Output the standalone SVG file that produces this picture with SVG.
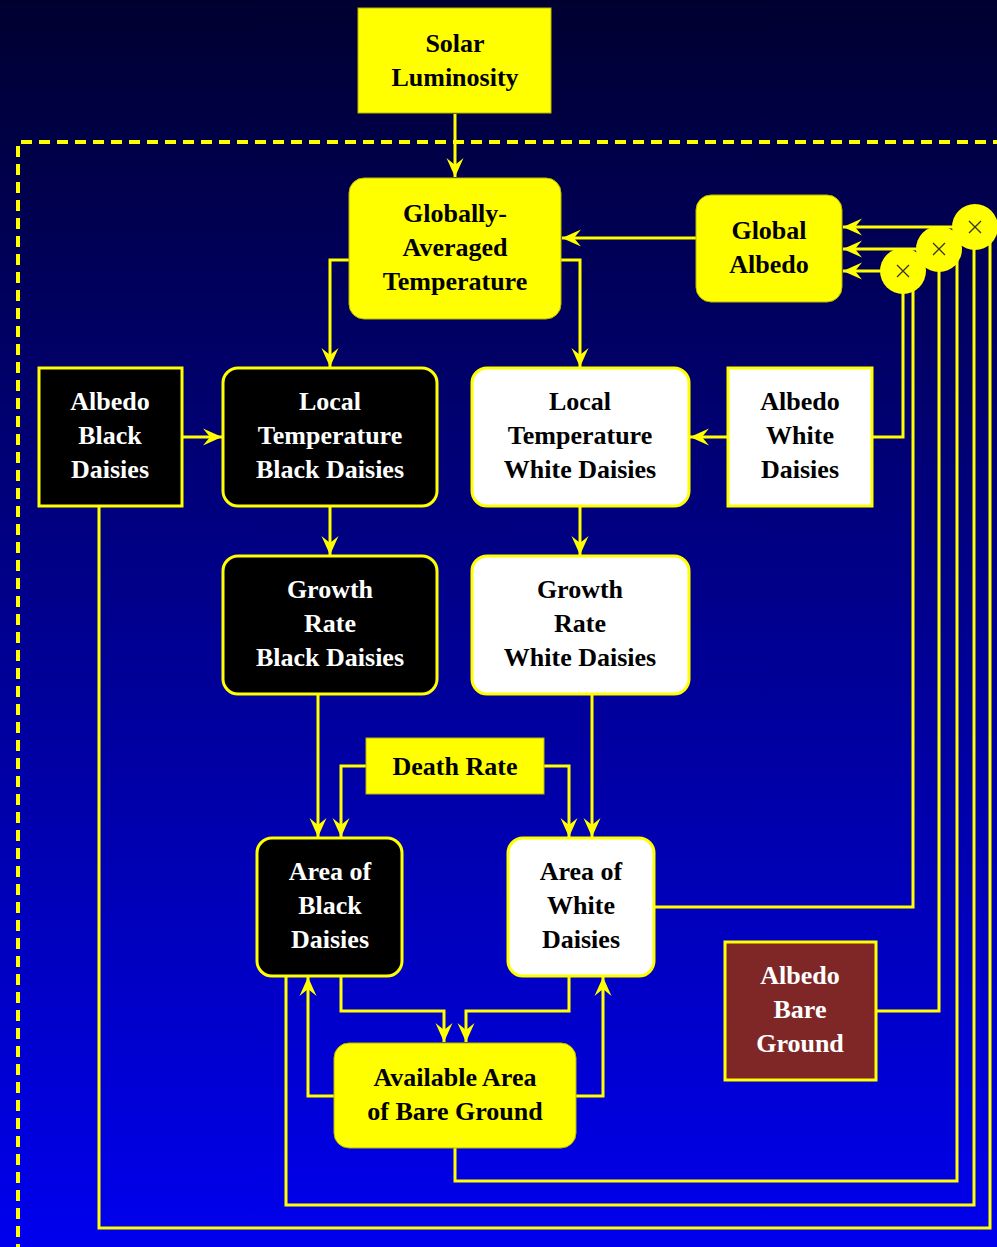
<svg xmlns="http://www.w3.org/2000/svg" width="997" height="1247" viewBox="0 0 997 1247">
<defs>
<linearGradient id="bg" x1="0" y1="0" x2="0" y2="1">
<stop offset="0" stop-color="#000030"/>
<stop offset="1" stop-color="#0000ee"/>
</linearGradient>
<marker id="arr" viewBox="-20 -10 22 20" markerWidth="22" markerHeight="20" refX="0" refY="0" orient="auto" markerUnits="userSpaceOnUse">
<path d="M0,0 L-19,-8.5 L-12,0 L-19,8.5 Z" fill="#ffff00"/>
</marker>
<style>
.y{fill:#ffff00;stroke:#b8b800;stroke-width:1}
.b{fill:#000000;stroke:#ffff00;stroke-width:3}
.w{fill:#ffffff;stroke:#ffff00;stroke-width:3}
.r{fill:#7f2727;stroke:#ffff00;stroke-width:3}
.c{fill:none;stroke:#ffff00;stroke-width:3}
.a{marker-end:url(#arr)}
text{font-family:"Liberation Serif","Times New Roman",serif;font-weight:bold;font-size:26px;text-anchor:middle}
.tk{fill:#000000}
.tw{fill:#ffffff}
.x{stroke:#333333;stroke-width:1.3}
</style>
</defs>
<rect x="0" y="0" width="997" height="1247" fill="url(#bg)"/>
<g id="frame" fill="none" stroke="#ffff00" stroke-width="4" stroke-dasharray="11 7">
<path d="M21,142 H1000"/>
<path d="M18,146 V1250"/>
</g>
<g id="connectors">
<path class="c a" d="M455,114 V177"/>
<path class="c a" d="M349,260 H330 V367"/>
<path class="c a" d="M561,260 H580 V367"/>
<path class="c a" d="M696,238 H562"/>
<path class="c a" d="M182,437 H222"/>
<path class="c a" d="M728,437 H690"/>
<path class="c a" d="M330,506 V555"/>
<path class="c a" d="M580,506 V555"/>
<path class="c a" d="M318,694 V837"/>
<path class="c a" d="M366,766 H341 V837"/>
<path class="c a" d="M544,766 H569 V837"/>
<path class="c a" d="M592,694 V837"/>
<path class="c a" d="M341,976 V1011 H444 V1042"/>
<path class="c a" d="M569,976 V1011 H466 V1042"/>
<path class="c a" d="M334,1096 H308 V977"/>
<path class="c a" d="M576,1096 H603 V977"/>
<path class="c" d="M872,437 H903 V271"/>
<path class="c" d="M654,907 H913 V271"/>
<path class="c" d="M876,1011 H939 V249"/>
<path class="c" d="M455,1148 V1181 H957 V249"/>
<path class="c" d="M286,976 V1205 H974 V227"/>
<path class="c" d="M99,506 V1228 H990 V227"/>
<path class="c a" d="M975,227 H843"/>
<path class="c a" d="M939,249 H843"/>
<path class="c a" d="M903,271 H843"/>
</g>
<g id="mult3">
<circle cx="975" cy="227" r="23" fill="#ffff00"/>
<path class="x" d="M969,221 L981,233 M981,221 L969,233"/>
</g>
<g id="mult2">
<circle cx="939" cy="249" r="23" fill="#ffff00"/>
<path class="x" d="M933,243 L945,255 M945,243 L933,255"/>
</g>
<g id="mult1">
<circle cx="903" cy="271" r="23" fill="#ffff00"/>
<path class="x" d="M897,265 L909,277 M909,265 L897,277"/>
</g>
<g id="solar">
<rect class="y" x="358" y="8" width="193" height="105"/>
<text class="tk" x="455" y="52">Solar</text>
<text class="tk" x="455" y="86">Luminosity</text>
</g>
<g id="globaltemp">
<rect class="y" x="349" y="178" width="212" height="141" rx="15"/>
<text class="tk" x="455" y="222">Globally-</text>
<text class="tk" x="455" y="256">Averaged</text>
<text class="tk" x="455" y="290">Temperature</text>
</g>
<g id="globalalbedo">
<rect class="y" x="696" y="195" width="146" height="107" rx="15"/>
<text class="tk" x="769" y="239">Global</text>
<text class="tk" x="769" y="273">Albedo</text>
</g>
<g id="albedoblack">
<rect class="b" x="39" y="368" width="143" height="138"/>
<text class="tw" x="110" y="410">Albedo</text>
<text class="tw" x="110" y="444">Black</text>
<text class="tw" x="110" y="478">Daisies</text>
</g>
<g id="localtempblack">
<rect class="b" x="223" y="368" width="214" height="138" rx="15"/>
<text class="tw" x="330" y="410">Local</text>
<text class="tw" x="330" y="444">Temperature</text>
<text class="tw" x="330" y="478">Black Daisies</text>
</g>
<g id="localtempwhite">
<rect class="w" x="472" y="368" width="217" height="138" rx="15"/>
<text class="tk" x="580" y="410">Local</text>
<text class="tk" x="580" y="444">Temperature</text>
<text class="tk" x="580" y="478">White Daisies</text>
</g>
<g id="albedowhite">
<rect class="w" x="728" y="368" width="144" height="138"/>
<text class="tk" x="800" y="410">Albedo</text>
<text class="tk" x="800" y="444">White</text>
<text class="tk" x="800" y="478">Daisies</text>
</g>
<g id="growthblack">
<rect class="b" x="223" y="556" width="214" height="138" rx="15"/>
<text class="tw" x="330" y="598">Growth</text>
<text class="tw" x="330" y="632">Rate</text>
<text class="tw" x="330" y="666">Black Daisies</text>
</g>
<g id="growthwhite">
<rect class="w" x="472" y="556" width="217" height="138" rx="15"/>
<text class="tk" x="580" y="598">Growth</text>
<text class="tk" x="580" y="632">Rate</text>
<text class="tk" x="580" y="666">White Daisies</text>
</g>
<g id="deathrate">
<rect class="y" x="366" y="738" width="178" height="56"/>
<text class="tk" x="455" y="775">Death Rate</text>
</g>
<g id="areablack">
<rect class="b" x="257" y="838" width="145" height="138" rx="15"/>
<text class="tw" x="330" y="880">Area of</text>
<text class="tw" x="330" y="914">Black</text>
<text class="tw" x="330" y="948">Daisies</text>
</g>
<g id="areawhite">
<rect class="w" x="508" y="838" width="146" height="138" rx="15"/>
<text class="tk" x="581" y="880">Area of</text>
<text class="tk" x="581" y="914">White</text>
<text class="tk" x="581" y="948">Daisies</text>
</g>
<g id="available">
<rect class="y" x="334" y="1043" width="242" height="105" rx="15"/>
<text class="tk" x="455" y="1086">Available Area</text>
<text class="tk" x="455" y="1120">of Bare Ground</text>
</g>
<g id="albedobare">
<rect class="r" x="725" y="942" width="151" height="138"/>
<text class="tw" x="800" y="984">Albedo</text>
<text class="tw" x="800" y="1018">Bare</text>
<text class="tw" x="800" y="1052">Ground</text>
</g>
</svg>
